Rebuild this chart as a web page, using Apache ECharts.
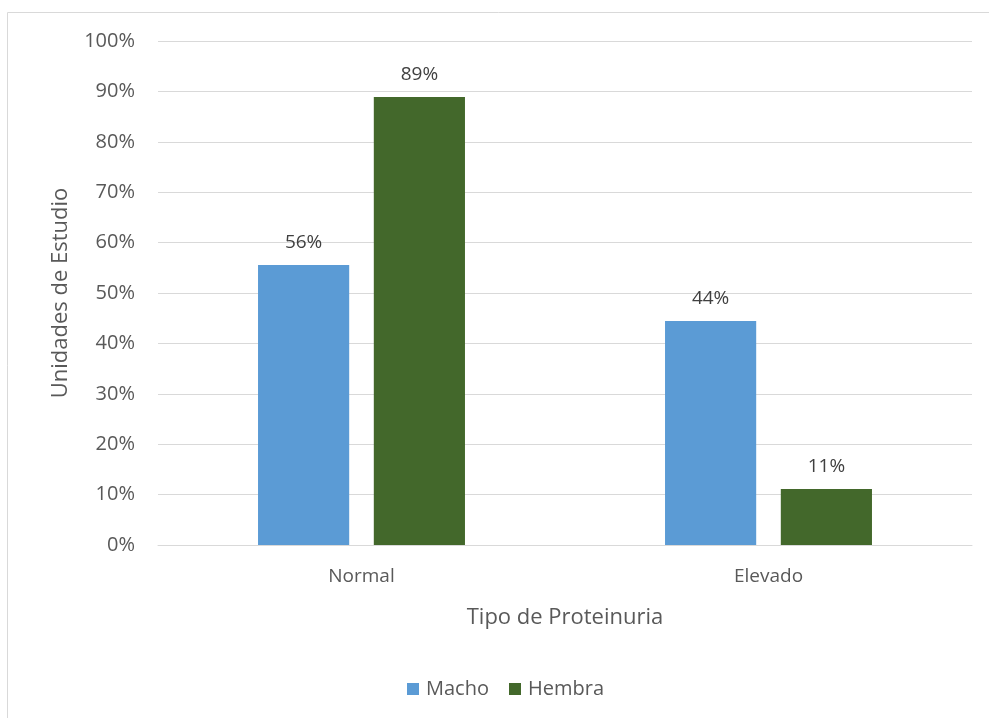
<!DOCTYPE html>
<html><head><meta charset="utf-8">
<script src="https://cdn.jsdelivr.net/npm/echarts@6/dist/echarts.min.js"></script>
<style>html,body{margin:0;padding:0;background:#fff}#c{width:989px;height:718px}</style>
</head><body><div id="c"></div>
<script>
const categories = ['Normal', 'Elevado'];
const macho = [55.56, 44.44];
const hembra = [88.89, 11.11];
const seriesNames = ['Macho', 'Hembra'];
const yTicks = [0, 10, 20, 30, 40, 50, 60, 70, 80, 90, 100];

const font = '"Open Sans", "Liberation Sans", sans-serif';
const chart = echarts.init(document.getElementById('c'));
const lbl = {
  show: true, position: 'top', distance: 13, color: '#404040', fontSize: 19, fontFamily: font,
  formatter: p => Math.round(p.value) + '%'
};
chart.setOption({
  animation: false,
  graphic: [{
    type: 'rect', shape: {x: 7.5, y: 12.5, width: 1000, height: 800},
    style: {fill: 'none', stroke: '#d9d9d9', lineWidth: 1}, silent: true
  }],
  grid: {left: 158, right: 17, top: 41, bottom: 173, containLabel: false},
  legend: {
    top: 674, left: 402, itemWidth: 12, itemHeight: 12, itemGap: 20,
    icon: 'rect', textStyle: {color: '#595959', fontSize: 20, fontFamily: font, padding: [0, 0, 0, 2]},
    data: seriesNames
  },
  xAxis: {
    type: 'category', data: categories,
    name: 'Tipo de Proteinuria', nameLocation: 'middle', nameGap: 62,
    nameTextStyle: {color: '#595959', fontSize: 22, fontFamily: font},
    axisLine: {show: true, lineStyle: {color: '#d9d9d9'}},
    axisTick: {show: false},
    axisLabel: {color: '#595959', fontSize: 19, fontFamily: font, margin: 22}
  },
  yAxis: {
    type: 'value', min: yTicks[0], max: yTicks[yTicks.length - 1], interval: 10,
    name: 'Unidades de Estudio', nameLocation: 'middle', nameGap: 86,
    nameTextStyle: {color: '#595959', fontSize: 22, fontFamily: font},
    axisLine: {show: false}, axisTick: {show: false},
    axisLabel: {color: '#595959', fontSize: 20, fontFamily: font, margin: 23, formatter: v => v + '%'},
    splitLine: {lineStyle: {color: '#d9d9d9', width: 1}}
  },
  series: [
    {name: seriesNames[0], type: 'bar', data: macho, barWidth: '22.4%', barGap: '27%',
     itemStyle: {color: '#5b9bd5'}, label: lbl},
    {name: seriesNames[1], type: 'bar', data: hembra, barWidth: '22.4%',
     itemStyle: {color: '#43682b'}, label: lbl}
  ]
});
</script></body></html>
